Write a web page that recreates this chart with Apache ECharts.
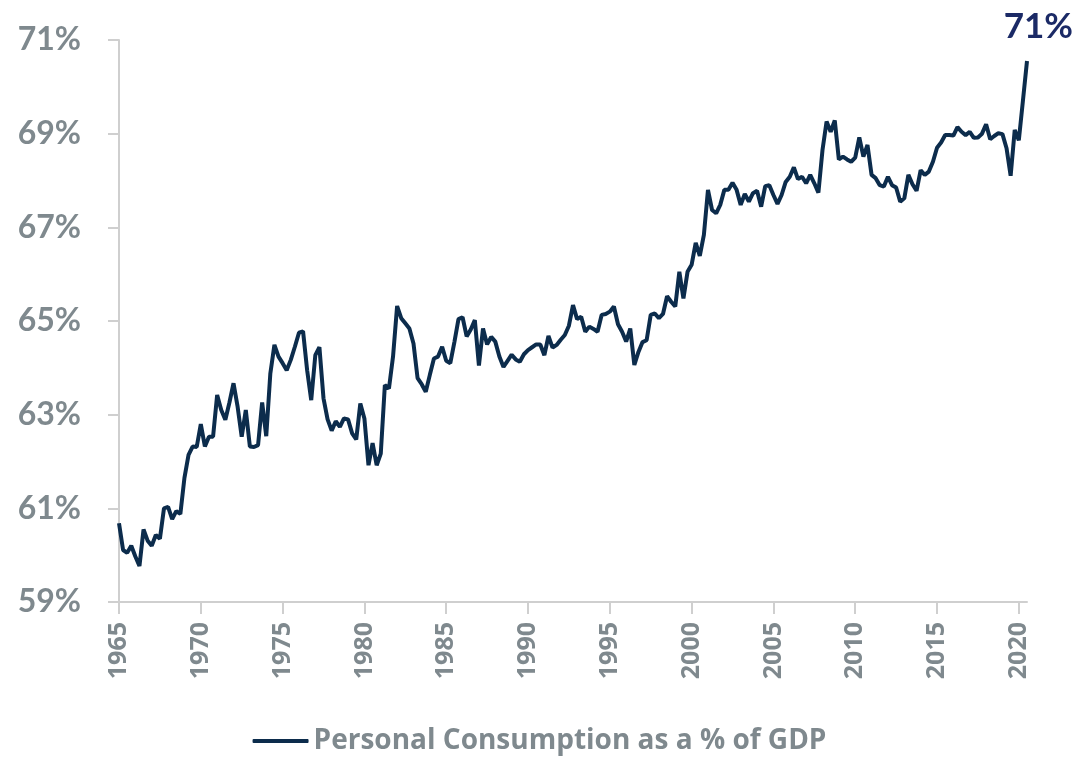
<!DOCTYPE html>
<html>
<head>
<meta charset="utf-8">
<script src="https://cdn.jsdelivr.net/npm/echarts@6/dist/echarts.min.js"></script>
<style>
  html, body { margin: 0; padding: 0; background: #fff; }
  #chart { width: 1079px; height: 760px; }
</style>
</head>
<body>
<div id="chart"></div>
<script>
// quarterly values, 1965Q1 .. 2020Q3
const years = []
for (let y = 1965; y <= 2020; y++) years.push(y)
const quarters = []
years.forEach(y => { for (let q = 1; q <= 4; q++) quarters.push(y + 'Q' + q) })

const consumptionShare = [
  60.68, 60.11, 60.05, 60.2,
  59.97, 59.77, 60.55, 60.31,
  60.2, 60.43, 60.35, 61.0,
  61.03, 60.77, 60.94, 60.88,
  61.65, 62.14, 62.32, 62.31,
  62.8, 62.32, 62.53, 62.53,
  63.42, 63.1, 62.89, 63.26,
  63.67, 63.17, 62.53, 63.1,
  62.32, 62.31, 62.35, 63.26,
  62.54, 63.88, 64.49, 64.24,
  64.1, 63.95, 64.17, 64.45,
  64.75, 64.78, 63.95, 63.31,
  64.27, 64.44, 63.35, 62.9,
  62.66, 62.86, 62.74, 62.92,
  62.9, 62.6, 62.47, 63.24,
  62.92, 61.92, 62.39, 61.92,
  62.17, 63.63, 63.56, 64.24,
  65.32, 65.06, 64.95, 64.84,
  64.52, 63.78, 63.65, 63.49,
  63.85, 64.2, 64.24, 64.45,
  64.15, 64.1, 64.55, 65.04,
  65.08, 64.67, 64.82, 65.02,
  64.05, 64.84, 64.5, 64.66,
  64.56, 64.24, 64.02, 64.15,
  64.28, 64.18, 64.13, 64.29,
  64.38, 64.44, 64.5, 64.5,
  64.27, 64.68, 64.43, 64.49,
  64.6, 64.7, 64.9, 65.34,
  65.04, 65.09, 64.77, 64.88,
  64.83, 64.77, 65.13, 65.15,
  65.2, 65.31, 64.93, 64.77,
  64.56, 64.84, 64.06, 64.34,
  64.55, 64.59, 65.13, 65.16,
  65.06, 65.15, 65.53, 65.41,
  65.31, 66.05, 65.48, 66.05,
  66.2, 66.67, 66.39, 66.84,
  67.8, 67.37, 67.3, 67.48,
  67.8, 67.8, 67.95, 67.8,
  67.48, 67.71, 67.55, 67.73,
  67.78, 67.44, 67.88, 67.9,
  67.69, 67.5, 67.69, 67.97,
  68.08, 68.28, 68.03, 68.08,
  67.94, 68.12, 67.94, 67.74,
  68.65, 69.26, 69.04, 69.28,
  68.45, 68.51, 68.45, 68.4,
  68.49, 68.92, 68.51, 68.76,
  68.12, 68.05, 67.9, 67.87,
  68.08, 67.9, 67.85, 67.55,
  67.62, 68.12, 67.92, 67.78,
  68.22, 68.12, 68.19, 68.4,
  68.7, 68.81, 68.97, 68.97,
  68.96, 69.14, 69.04, 68.97,
  69.04, 68.91, 68.92, 69.0,
  69.2, 68.88, 68.95, 69.01,
  68.99, 68.69, 68.1, 69.08,
  68.86, 69.7, 70.55
]
const categories = quarters.slice(0, consumptionShare.length)

const gray = '#7f898e'
const navy = '#0c2c4c'

const chart = echarts.init(document.getElementById('chart'))

// a label every 5 years (20 quarters)
const everyFive = (index) => index % 20 === 0

chart.setOption({
  animation: false,
  grid: { left: 119, right: 52, top: 40, bottom: 158 },
  xAxis: {
    type: 'category',
    data: categories,
    boundaryGap: false,
    axisLine: { lineStyle: { color: '#cfcfcf', width: 2 } },
    axisTick: { interval: everyFive, length: 12, lineStyle: { color: '#cfcfcf', width: 2 } },
    axisLabel: {
      interval: everyFive,
      rotate: 90,
      margin: 20,
      color: gray,
      fontFamily: 'Open Sans',
      fontWeight: 'bold',
      fontSize: 25,
      formatter: v => v.slice(0, 4)
    },
    splitLine: { show: false }
  },
  yAxis: {
    type: 'value',
    min: 59,
    max: 71,
    interval: 2,
    axisLine: { show: true, lineStyle: { color: '#cfcfcf', width: 2 } },
    axisTick: { show: true, length: 11, lineStyle: { color: '#cfcfcf', width: 2 } },
    axisLabel: {
      formatter: '{value}%',
      margin: 38,
      color: gray,
      fontFamily: 'Lato',
      fontWeight: 'bold',
      fontSize: 32
    },
    splitLine: { show: false }
  },
  legend: {
    bottom: 0,
    left: 'center',
    icon: 'roundRect',
    itemWidth: 56,
    itemHeight: 4,
    itemGap: 4,
    textStyle: { color: gray, fontFamily: 'Open Sans', fontWeight: 'bold', fontSize: 28 },
    data: ['Personal Consumption as a % of GDP']
  },
  graphic: [{
    type: 'text',
    right: 6,
    top: 9,
    style: {
      text: '71%',
      fill: '#1b2a66',
      font: 'bold 35px Lato'
    }
  }],
  series: [{
    name: 'Personal Consumption as a % of GDP',
    type: 'line',
    data: consumptionShare,
    showSymbol: false,
    lineStyle: { color: navy, width: 4 },
    itemStyle: { color: navy }
  }]
})
</script>
</body>
</html>
